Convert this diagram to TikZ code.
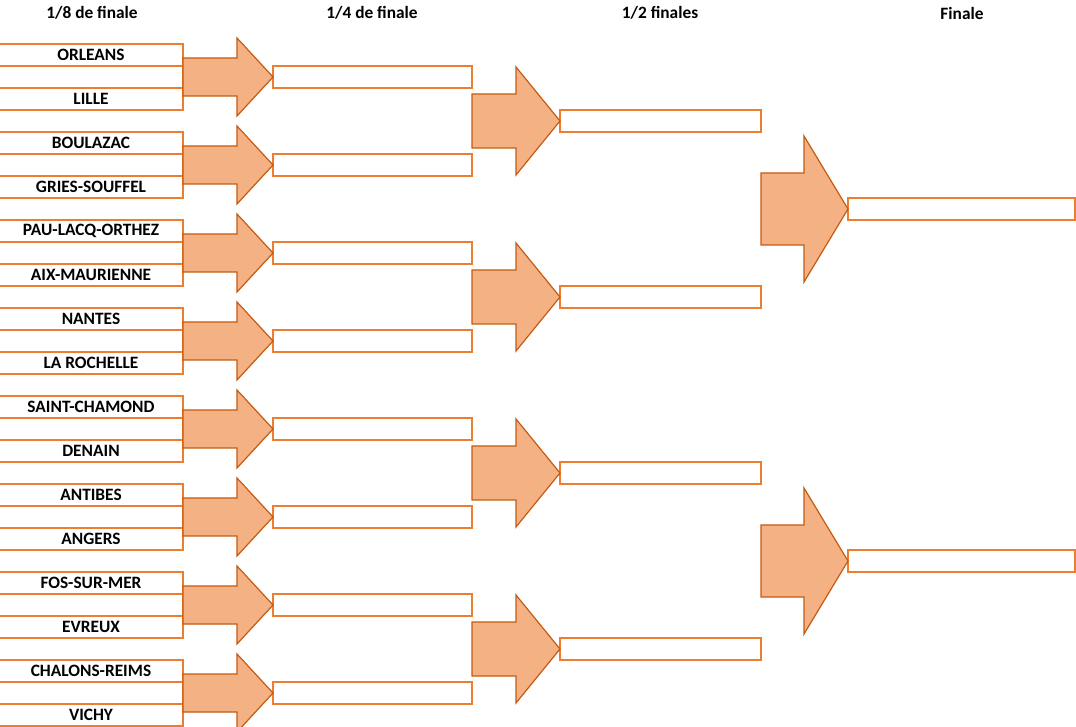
\documentclass[tikz,border=0pt]{standalone}
\usepackage{fontspec}
\setmainfont{Carlito}
\usetikzlibrary{calc}
\definecolor{bordorange}{RGB}{237,125,49}
\definecolor{flechefill}{RGB}{244,177,131}
\definecolor{flechedraw}{RGB}{197,90,17}

% fleche pleine : depart, arrivee, demi-corps, longueur tete, demi-tete
\newcommand{\fleche}[5]{%
  \draw[fleche] let \p1=(#1), \p2=(#2) in
    (\x1,{\y2+#3}) -- ({\x2-#4},{\y2+#3}) -- ({\x2-#4},{\y2+#5}) -- (\x2,\y2)
    -- ({\x2-#4},{\y2-#5}) -- ({\x2-#4},{\y2-#3}) -- (\x1,{\y2-#3}) -- cycle;}

\begin{document}
\begin{tikzpicture}[x=0.75pt,y=-0.75pt,
  case/.style={draw=bordorange, line width=1.1pt, fill=white, inner sep=0pt, outer sep=0pt,
    minimum height=16.5pt, font=\fontsize{13}{15}\selectfont\bfseries},
  equipe/.style={case, minimum width=138pt},
  quart/.style={case, minimum width=149.25pt},
  demi/.style={case, minimum width=150.75pt},
  finale/.style={case, minimum width=170.25pt},
  titre/.style={font=\fontsize{13}{15}\selectfont\bfseries, inner sep=0pt},
  fleche/.style={draw=flechedraw, fill=flechefill, line width=0.9pt, line join=miter}]
\useasboundingbox (0,0) rectangle (1076,727);

% titres des colonnes
\node[titre] (t1) at (92,13) {1/8 de finale};
\node[titre] (t2) at (372,13) {1/4 de finale};
\node[titre] (t3) at (660,13) {1/2 finales};
\node[titre] (t4) at (962,13) {Finale};

% 1/8 de finale
\foreach \a/\b [count=\i] in {ORLEANS/LILLE, BOULAZAC/GRIES-SOUFFEL,
    PAU-LACQ-ORTHEZ/AIX-MAURIENNE, NANTES/LA ROCHELLE, SAINT-CHAMOND/DENAIN,
    ANTIBES/ANGERS, FOS-SUR-MER/EVREUX, CHALONS-REIMS/VICHY}{
  \node[equipe] (haut\i) at (91,{55+88*(\i-1)}) {\a};
  \node[equipe] (vide\i) at (91,{77+88*(\i-1)}) {};
  \node[equipe] (bas\i) at (91,{99+88*(\i-1)}) {\b};
}

% 1/4 de finale
\foreach \i in {1,...,8}{
  \node[quart] (quart\i) at (372.5,{77+88*(\i-1)}) {};
  \fleche{vide\i.east}{quart\i.west}{14.25pt}{27pt}{29.25pt}
}

% 1/2 finales
\foreach \i/\j in {1/2,2/4,3/6,4/8}{
  \node[demi] (demi\i) at (660.5,{121+176*(\i-1)}) {};
  \fleche{quart\j.east}{demi\i.west}{20.25pt}{33pt}{40.5pt}
}

% finale
\node[finale] (finale1) at (961.5,209) {};
\node[finale] (finale2) at (961.5,561) {};
\fleche{demi1.east}{finale1.west}{27pt}{33pt}{54.75pt}
\fleche{demi3.east}{finale2.west}{27pt}{33pt}{54.75pt}
\end{tikzpicture}
\end{document}
